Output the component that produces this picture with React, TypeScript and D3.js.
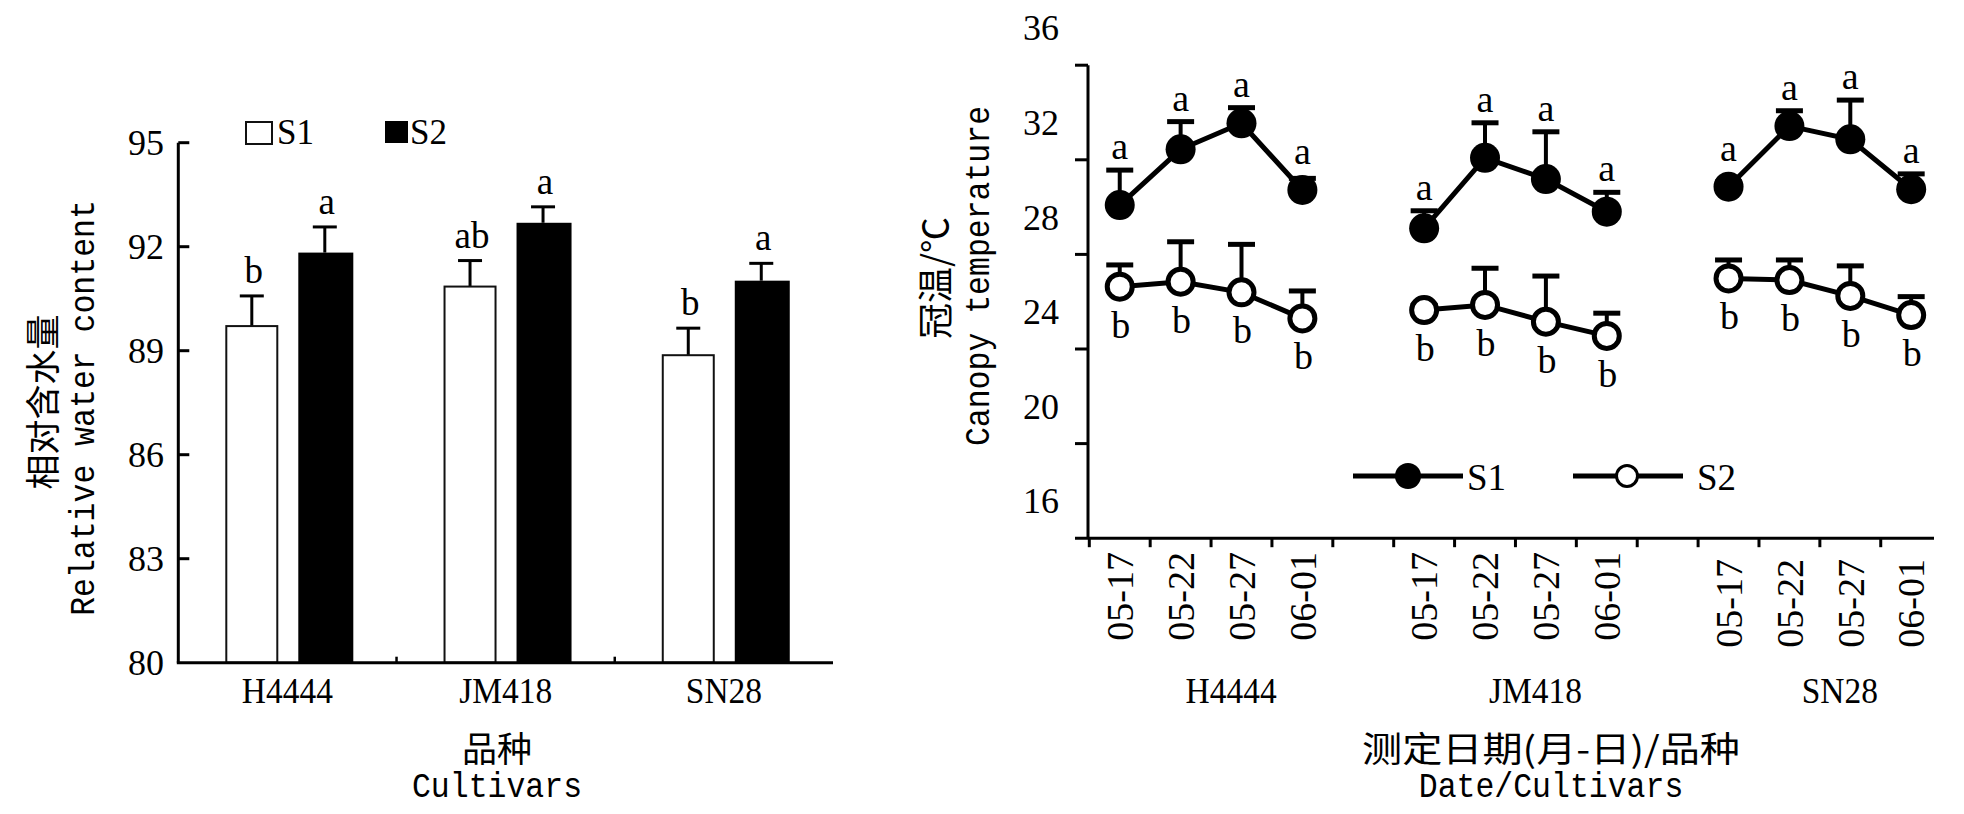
import React from "react";
import * as d3 from "d3";

// ---------- Left panel: relative water content ----------
const cultivars = ["H4444", "JM418", "SN28"];
const treatments = ["S1", "S2"];
const rwcS1 = [89.71, 90.85, 88.87];
const rwcS1Err = [0.87, 0.75, 0.78];
const rwcS2 = [91.83, 92.69, 91.02];
const rwcS2Err = [0.74, 0.46, 0.5];
const rwcS1Sig = ["b", "ab", "b"];
const rwcS2Sig = ["a", "a", "a"];
const rwcTicks = [80, 83, 86, 89, 92, 95];

// ---------- Right panel: canopy temperature ----------
const dates = ["05-17", "05-22", "05-27", "06-01"];
const ctS1 = [
  [28.52, 30.88, 31.98, 29.16],
  [27.54, 30.52, 29.62, 28.24],
  [29.3, 31.86, 31.3, 29.19],
];
const ctS1Err = [
  [1.48, 1.17, 0.66, 0.49],
  [0.74, 1.48, 2.0, 0.82],
  [0.2, 0.65, 1.66, 0.65],
];
const ctS2 = [
  [25.07, 25.28, 24.83, 23.73],
  [24.08, 24.3, 23.59, 22.99],
  [25.42, 25.35, 24.68, 23.87],
];
const ctS2Err = [
  [0.92, 1.69, 2.03, 1.16],
  [0.2, 1.55, 1.93, 0.96],
  [0.78, 0.85, 1.27, 0.78],
];
const ctS1Sig = ["a", "a", "a", "a"];
const ctS2Sig = ["b", "b", "b", "b"];
const ctTicks = [16, 20, 24, 28, 32, 36];

const SERIF = "'Liberation Serif', 'Times New Roman', serif";
const MONO = "'Liberation Mono', 'DejaVu Sans Mono', monospace";
const CJK = "'Noto Sans CJK SC', 'Noto Sans CJK JP', sans-serif";

function LeftPanel() {
  const yAxisX = 178.3;
  const y = d3.scaleLinear().domain([80, 95]).range([662.7, 142.7]);
  const x0 = d3.scaleBand<string>().domain(cultivars).range([yAxisX, 833]);
  const x1 = d3.scaleBand<string>().domain(treatments).range([47, 173]).paddingInner(0.274);
  const bw = x1.bandwidth();
  const series = [
    { key: "S1", vals: rwcS1, errs: rwcS1Err, sig: rwcS1Sig },
    { key: "S2", vals: rwcS2, errs: rwcS2Err, sig: rwcS2Sig },
  ];
  return (
    <g>
      {/* bars */}
      {series.map((s) =>
        cultivars.map((c, i) => {
          const bx = (x0(c) as number) + (x1(s.key) as number);
          const cx = bx + bw / 2;
          const top = y(s.vals[i]);
          const cap = y(s.vals[i] + s.errs[i]);
          return (
            <g key={s.key + c}>
              <line x1={cx} x2={cx} y1={top} y2={cap} stroke="#000" strokeWidth={3} />
              <line x1={cx - 12} x2={cx + 12} y1={cap} y2={cap} stroke="#000" strokeWidth={3} />
              {s.key === "S1" ? (
                <rect x={bx + 1} y={top} width={bw - 2} height={y(80) - top} fill="#fff" stroke="#111" strokeWidth={2} />
              ) : (
                <rect x={bx} y={top} width={bw + 2} height={y(80) - top} fill="#000" />
              )}
              <text x={cx + 2} y={cap - 13} textAnchor="middle" fontFamily={SERIF} fontSize={37}>
                {s.sig[i]}
              </text>
            </g>
          );
        })
      )}
      {/* y axis */}
      <line x1={yAxisX} x2={yAxisX} y1={y(95)} y2={y(80)} stroke="#000" strokeWidth={3} />
      {rwcTicks.map((t) => (
        <g key={t}>
          {t !== 80 && <line x1={yAxisX} x2={yAxisX + 11} y1={y(t)} y2={y(t)} stroke="#000" strokeWidth={3} />}
          <text x={164} y={y(t)} dy="0.34em" textAnchor="end" fontFamily={SERIF} fontSize={36}>
            {t}
          </text>
        </g>
      ))}
      {/* x axis */}
      <line x1={yAxisX - 1.5} x2={833} y1={y(80)} y2={y(80)} stroke="#000" strokeWidth={3} />
      {cultivars.slice(1).map((c) => (
        <line key={c} x1={x0(c) as number} x2={x0(c) as number} y1={y(80)} y2={y(80) - 6} stroke="#000" strokeWidth={2.5} />
      ))}
      {cultivars.map((c) => (
        <text
          key={c}
          transform={`translate(${(x0(c) as number) + x0.bandwidth() / 2},703) scale(0.93,1)`}
          textAnchor="middle"
          fontFamily={SERIF}
          fontSize={36}
        >
          {c}
        </text>
      ))}
      {/* axis titles */}
      <text x={497} y={762} textAnchor="middle" fontFamily={CJK} fontSize={35}>
        品种
      </text>
      <text transform="translate(497,797) scale(0.875,1)" textAnchor="middle" fontFamily={MONO} fontSize={36}>
        Cultivars
      </text>
      <text transform="translate(44,402) rotate(-90)" dy="0.35em" textAnchor="middle" fontFamily={CJK} fontSize={35}>
        相对含水量
      </text>
      <text transform="translate(81,408) rotate(-90) scale(0.875,1)" dy="0.35em" textAnchor="middle" fontFamily={MONO} fontSize={36}>
        Relative water content
      </text>
      {/* legend */}
      <rect x={246} y={122} width={26} height={22} fill="#fff" stroke="#111" strokeWidth={2} />
      <text x={277} y={144} fontFamily={SERIF} fontSize={35}>S1</text>
      <rect x={385} y={121} width={23} height={22} fill="#000" />
      <text x={410} y={144} fontFamily={SERIF} fontSize={35}>S2</text>
    </g>
  );
}

function RightPanel() {
  const axisX = 1088;
  const tickShift = 37;
  const y = d3.scaleLinear().domain([16, 36]).range([501.2, 28.2]);
  const slots: string[] = [];
  cultivars.forEach((c, ci) => {
    dates.forEach((d) => slots.push(c + "|" + d));
    if (ci < cultivars.length - 1) slots.push("gap" + ci);
  });
  const x = d3.scaleBand<string>().domain(slots).range([1089.3, 1089.3 + slots.length * 60.88]);
  const bw = x.bandwidth();
  const xc = (c: string, d: string) => (x(c + "|" + d) as number) + bw / 2;
  const axisY = y(16) + tickShift;
  const labelShift = [0, 0, 7];
  const line = d3.line<[number, number]>();

  return (
    <g>
      {/* axes */}
      <line x1={axisX} x2={axisX} y1={y(36) + tickShift} y2={axisY} stroke="#000" strokeWidth={3} />
      {ctTicks.map((t) => (
        <g key={t}>
          {t !== 16 && <line x1={axisX - 13} x2={axisX} y1={y(t) + tickShift} y2={y(t) + tickShift} stroke="#000" strokeWidth={3} />}
          <text x={1059} y={y(t)} dy="0.34em" textAnchor="end" fontFamily={SERIF} fontSize={36}>
            {t}
          </text>
        </g>
      ))}
      <line x1={axisX - 13} x2={1934} y1={axisY} y2={axisY} stroke="#000" strokeWidth={3} />
      {slots.map((s) => (
        <line key={s} x1={x(s) as number} x2={x(s) as number} y1={axisY} y2={axisY + 9} stroke="#000" strokeWidth={3} />
      ))}
      {cultivars.map((c, ci) =>
        dates.map((d) => (
          <text
            key={c + d}
            transform={`translate(${xc(c, d)},${552 + labelShift[ci]}) rotate(-90)`}
            dy="0.35em"
            textAnchor="end"
            fontFamily={SERIF}
            fontSize={38}
          >
            {d}
          </text>
        ))
      )}
      {cultivars.map((c, ci) => {
        const cx = (xc(c, dates[1]) + xc(c, dates[2])) / 2 + 20;
        return (
          <text key={c} transform={`translate(${cx},703) scale(0.93,1)`} textAnchor="middle" fontFamily={SERIF} fontSize={36}>
            {c}
          </text>
        );
      })}
      {/* series */}
      {cultivars.map((c, ci) => {
        const p1 = dates.map((d, di) => [xc(c, d), y(ctS1[ci][di])] as [number, number]);
        const p2 = dates.map((d, di) => [xc(c, d), y(ctS2[ci][di])] as [number, number]);
        return (
          <g key={c}>
            {dates.map((d, di) => {
              const cx = xc(c, d);
              const c1 = y(ctS1[ci][di] + ctS1Err[ci][di]);
              const c2 = y(ctS2[ci][di] + ctS2Err[ci][di]);
              return (
                <g key={d}>
                  <line x1={cx} x2={cx} y1={y(ctS1[ci][di])} y2={c1} stroke="#000" strokeWidth={4} />
                  <line x1={cx - 13.5} x2={cx + 13.5} y1={c1} y2={c1} stroke="#000" strokeWidth={5} />
                  <line x1={cx} x2={cx} y1={y(ctS2[ci][di])} y2={c2} stroke="#000" strokeWidth={4} />
                  <line x1={cx - 13.5} x2={cx + 13.5} y1={c2} y2={c2} stroke="#000" strokeWidth={5} />
                </g>
              );
            })}
            <path d={line(p1) as string} fill="none" stroke="#000" strokeWidth={5} />
            <path d={line(p2) as string} fill="none" stroke="#000" strokeWidth={5} />
            {p1.map((p, di) => (
              <circle key={"a" + di} cx={p[0]} cy={p[1]} r={15} fill="#000" />
            ))}
            {p2.map((p, di) => (
              <circle key={"b" + di} cx={p[0]} cy={p[1]} r={12.5} fill="#fff" stroke="#000" strokeWidth={5} />
            ))}
            {dates.map((d, di) => {
              const cx = xc(c, d);
              const top = Math.min(y(ctS1[ci][di] + ctS1Err[ci][di]), y(ctS1[ci][di]) - 15);
              return (
                <g key={"t" + d}>
                  <text x={cx} y={top - 11} textAnchor="middle" fontFamily={SERIF} fontSize={38}>
                    {ctS1Sig[di]}
                  </text>
                  <text x={cx + 1} y={y(ctS2[ci][di]) + 51} textAnchor="middle" fontFamily={SERIF} fontSize={38}>
                    {ctS2Sig[di]}
                  </text>
                </g>
              );
            })}
          </g>
        );
      })}
      {/* legend */}
      <line x1={1353} x2={1463} y1={476} y2={476} stroke="#000" strokeWidth={5} />
      <circle cx={1408} cy={476} r={13} fill="#000" />
      <text x={1467} y={490} fontFamily={SERIF} fontSize={37}>S1</text>
      <line x1={1573} x2={1683} y1={476} y2={476} stroke="#000" strokeWidth={5} />
      <circle cx={1627} cy={476} r={10.5} fill="#fff" stroke="#000" strokeWidth={3} />
      <text x={1697} y={490} fontFamily={SERIF} fontSize={37}>S2</text>
      {/* titles */}
      <text x={1551} y={762} textAnchor="middle" textLength={378} lengthAdjust="spacingAndGlyphs" fontFamily={CJK} fontSize={35}>
        测定日期(月-日)/品种
      </text>
      <text transform="translate(1551,797) scale(0.875,1)" textAnchor="middle" fontFamily={MONO} fontSize={36}>
        Date/Cultivars
      </text>
      <text transform="translate(936,278) rotate(-90)" dy="0.35em" textAnchor="middle" fontFamily={CJK} fontSize={36}>
        冠温/℃
      </text>
      <text transform="translate(976,276) rotate(-90) scale(0.875,1)" dy="0.35em" textAnchor="middle" fontFamily={MONO} fontSize={36}>
        Canopy temperature
      </text>
    </g>
  );
}

export default function App() {
  return (
    <svg
      width={1964}
      height={814}
      viewBox="0 0 1964 814"
      style={{ position: "absolute", left: 0, top: 0, background: "#fff" }}
    >
      <rect x={0} y={0} width={1964} height={814} fill="#fff" />
      <LeftPanel />
      <RightPanel />
    </svg>
  );
}
